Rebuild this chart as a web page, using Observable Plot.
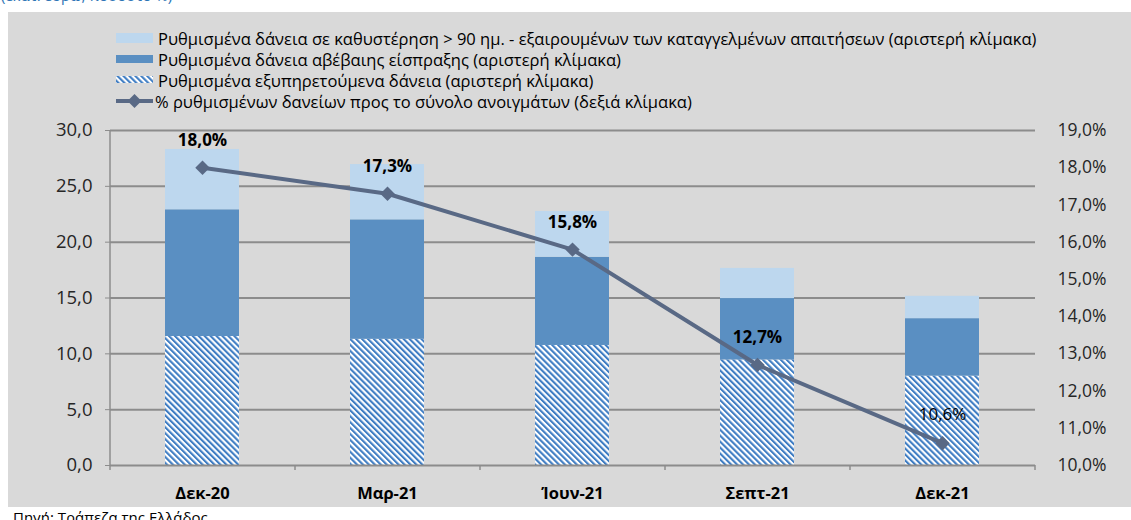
<!DOCTYPE html>
<html><head><meta charset="utf-8">
<script src="https://cdn.jsdelivr.net/npm/d3@7"></script>
<script src="https://cdn.jsdelivr.net/npm/@observablehq/plot@0.6"></script>
<style>
body{margin:0;width:1131px;height:520px;overflow:hidden;background:#fff;position:relative;font-family:"Open Sans",sans-serif;}
#sub{position:absolute;left:1px;top:-15px;color:#2e75b6;font-size:15px;white-space:nowrap;}
#panel{position:absolute;left:8px;top:12px;width:1123px;height:495px;background:#d9d9d9;}
.item{position:absolute;left:108px;height:20px;display:flex;align-items:center;font-size:14.5px;color:#000;white-space:nowrap;}
.item svg{flex:none;}
#chart{position:absolute;left:-8px;top:103px;}
#caption{position:absolute;left:13px;top:507px;font-size:15px;color:#000;white-space:nowrap;}
</style></head>
<body>
<svg width="0" height="0" style="position:absolute">
  <defs>
    <pattern id="hatch" patternUnits="userSpaceOnUse" width="4.2" height="4.2" patternTransform="rotate(-45)">
      <rect width="4.2" height="4.2" fill="#ffffff"></rect>
      <rect width="2.1" height="4.2" fill="#3f7dc3"></rect>
    </pattern>
  </defs>
</svg>
<div id="sub">(εκατ. ευρώ, ποσοστό %)</div>
<div id="panel"><div id="legend"></div><div id="chart"></div></div>
<div id="caption">Πηγή: Τράπεζα της Ελλάδος.</div>
<script>
const categories = ["Δεκ-20", "Μαρ-21", "Ίουν-21", "Σεπτ-21", "Δεκ-21"];
const performing = [11.55, 11.3, 10.75, 9.45, 8.0];
const uncertain = [11.35, 10.7, 7.9, 5.5, 5.15];
const overdue = [5.4, 4.95, 4.1, 2.7, 2.0];
const ratioPct = [18.0, 17.3, 15.8, 12.7, 10.6];
const leftTicks = [0, 5, 10, 15, 20, 25, 30];
const rightTicks = [10, 11, 12, 13, 14, 15, 16, 17, 18, 19];
const seriesNames = [
  "Ρυθμισμένα δάνεια σε καθυστέρηση > 90 ημ. - εξαιρουμένων των καταγγελμένων απαιτήσεων (αριστερή κλίμακα)",
  "Ρυθμισμένα δάνεια αβέβαιης είσπραξης (αριστερή κλίμακα)",
  "Ρυθμισμένα εξυπηρετούμενα δάνεια (αριστερή κλίμακα)",
  "% ρυθμισμένων δανείων προς το σύνολο ανοιγμάτων (δεξιά κλίμακα)"
];

const colLight = "#bdd7ee", colDark = "#5a8fc2", colHatch = "url(#hatch)", colLine = "#596985";
const gridCol = "#8c8c8c";

// legend
const legend = document.getElementById("legend");
const swatches = [
  `<rect x="0" y="5" width="37" height="10" fill="${colLight}"/>`,
  `<rect x="0" y="6" width="37" height="8" fill="${colDark}"/>`,
  `<rect x="0" y="6" width="37" height="7" fill="${colHatch}"/>`,
  `<line x1="0" x2="37" y1="10" y2="10" stroke="${colLine}" stroke-width="4"/><path d="M18.5,3 L25.5,10 L18.5,17 L11.5,10 Z" fill="${colLine}"/>`
];
const rowCenters = [26, 47, 68, 89];
const spans = [];
seriesNames.forEach((name, i) => {
  const d = document.createElement("div");
  d.className = "item";
  d.style.top = (rowCenters[i] - 10) + "px";
  d.innerHTML = `<svg width="37" height="20">${swatches[i]}</svg><span style="margin-left:${i === 3 ? 2 : 5}px">${name}</span>`;
  legend.appendChild(d);
  spans.push(d.querySelector("span"));
});
// fit the legend font so the first entry spans the same width as in the reference
const w0 = spans[0].getBoundingClientRect().width;
const fs = Math.max(12, Math.min(18, 14.5 * 879 / w0));
document.querySelectorAll(".item").forEach(el => el.style.fontSize = fs + "px");

// data table for stacked bars (stack order = input order)
const rows = [];
categories.forEach((c, i) => {
  rows.push({cat: c, series: seriesNames[2], value: performing[i]});
  rows.push({cat: c, series: seriesNames[1], value: uncertain[i]});
  rows.push({cat: c, series: seriesNames[0], value: overdue[i]});
});

const W = 1131, H = 395, mL = 110, mR = 96, mT = 15, mB = 45;
const step = (W - mL - mR) / categories.length;
const rMin = rightTicks[0], rMax = rightTicks[rightTicks.length - 1];
const lMax = leftTicks[leftTicks.length - 1];
const toLeft = r => (r - rMin) * lMax / (rMax - rMin);
const fromLeft = v => v * (rMax - rMin) / lMax + rMin;
const fmt1 = v => v.toFixed(1).replace(".", ",");
const lineData = categories.map((c, i) => ({cat: c, pct: ratioPct[i]}));

const chart = Plot.plot({
  width: W, height: H,
  marginLeft: mL, marginRight: mR, marginTop: mT, marginBottom: mB,
  style: {background: "transparent", fontFamily: "Open Sans, sans-serif", fontSize: "17px", color: "#262626", overflow: "visible"},
  x: {domain: categories, paddingInner: 0.6, paddingOuter: 0.3, axis: null},
  y: {domain: [0, lMax], axis: null},
  color: {domain: [seriesNames[2], seriesNames[1], seriesNames[0]], range: [colHatch, colDark, colLight]},
  marks: [
    Plot.ruleY(leftTicks.filter(v => v > 0), {stroke: gridCol, strokeWidth: 2}),
    Plot.barY(rows, {x: "cat", y: "value", fill: "series"}),
    Plot.ruleY([0], {stroke: gridCol, strokeWidth: 2}),
    Plot.ruleX([categories[0]], {dx: -step / 2, y1: () => 0, y2: () => lMax, stroke: gridCol, strokeWidth: 1.5}),
    Plot.ruleX(categories, {dx: -step / 2, y1: () => 0, y2: () => -0.45, stroke: gridCol, strokeWidth: 1.5}),
    Plot.ruleX([categories[categories.length - 1]], {dx: step / 2, y1: () => 0, y2: () => -0.45, stroke: gridCol, strokeWidth: 1.5}),
    Plot.axisY(leftTicks, {anchor: "left", label: null, tickSize: 5, tickPadding: 13, tickFormat: fmt1, stroke: gridCol, fill: "#262626", fontSize: 18.5}),
    Plot.axisY(rightTicks.map(toLeft), {anchor: "right", label: null, tickSize: 0, tickPadding: 22, tickFormat: v => fmt1(fromLeft(v)) + "%", fill: "#262626", fontSize: 17.5}),
    Plot.text(categories, {x: d => d, y: () => 0, dy: 28, text: d => d, fontWeight: "bold", fontSize: 16.5, fill: "#000"}),
    Plot.line(lineData, {x: "cat", y: d => toLeft(d.pct), stroke: colLine, strokeWidth: 4}),
    Plot.dot(lineData, {x: "cat", y: d => toLeft(d.pct), symbol: "diamond2", r: 6.5, fill: colLine, stroke: "none"}),
    Plot.text(lineData.slice(0, 4), {x: "cat", y: d => toLeft(d.pct), dy: -27, text: d => fmt1(d.pct) + "%", fontWeight: "bold", fontSize: 17, fill: "#000"}),
    Plot.text(lineData.slice(4), {x: "cat", y: d => toLeft(d.pct), dy: -29, text: d => fmt1(d.pct) + "%", fontSize: 17, fill: "#000"})
  ]
});
document.getElementById("chart").appendChild(chart);
</script>
</body></html>
